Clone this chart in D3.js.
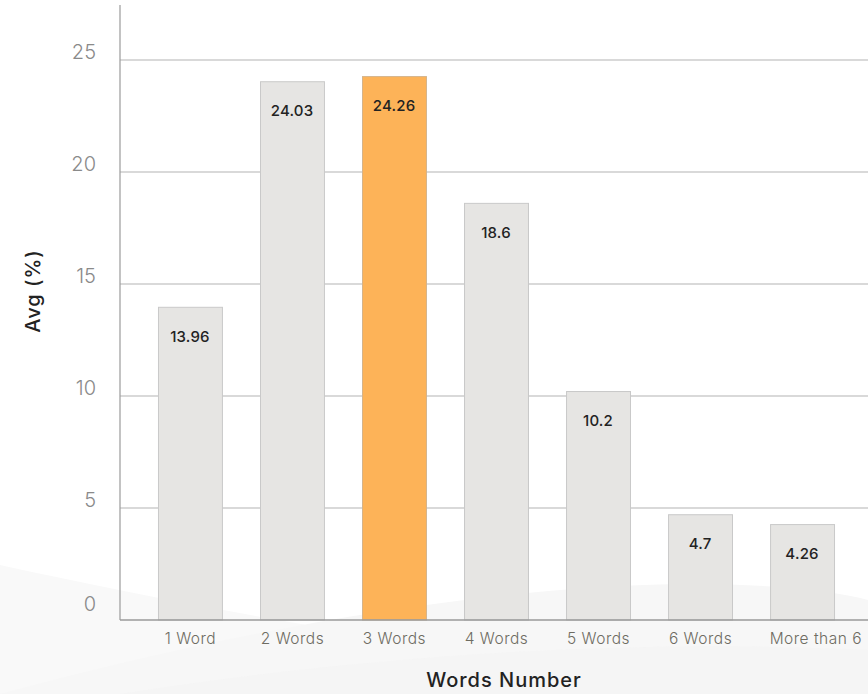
<!DOCTYPE html>
<html>
<head>
<meta charset="utf-8">
<script src="https://cdn.jsdelivr.net/npm/d3@7"></script>
<style>
  html, body { margin: 0; padding: 0; background: #ffffff; }
  svg { display: block; font-family: Inter, "Open Sans", sans-serif; }
</style>
</head>
<body>
<svg id="chart" width="868" height="694"></svg>
<script>
// Average share by number of words
const categories = ["1 Word", "2 Words", "3 Words", "4 Words", "5 Words", "6 Words", "More than 6"];
const avgValues = [13.96, 24.03, 24.26, 18.6, 10.2, 4.7, 4.26];
const yTicks = [0, 5, 10, 15, 20, 25];
const highlighted = "3 Words";

const svg = d3.select("#chart");
const W = 868, H = 694;
const plotLeft = 120, plotBottom = 620, plotTop = 60;

// soft background swooshes at the bottom
const bg = svg.append("g");
bg.append("path")
  .attr("d", `M0,565 C250,620 600,680 868,694 L0,694 Z`)
  .attr("fill", "#f9f9f9");
bg.append("path")
  .attr("d", `M0,694 C200,640 450,588 680,584 C770,583 840,592 868,600 L868,694 Z`)
  .attr("fill", "#f7f7f7");
bg.append("path")
  .attr("d", `M120,694 C400,650 650,640 868,650 L868,694 Z`)
  .attr("fill", "#f4f4f4")
  .attr("opacity", 0.6);

const y = d3.scaleLinear().domain([0, 25]).range([plotBottom, plotTop]);
const x = d3.scaleBand().domain(categories).range([139, 853]).paddingInner(0.373).paddingOuter(0.186);

// horizontal grid lines
svg.append("g")
  .selectAll("line")
  .data(yTicks.filter(t => t > 0))
  .join("line")
  .attr("x1", plotLeft).attr("x2", W)
  .attr("y1", d => y(d)).attr("y2", d => y(d))
  .attr("stroke", "#cccccc")
  .attr("stroke-width", 1.5);

// bars
svg.append("g")
  .selectAll("rect")
  .data(categories)
  .join("rect")
  .attr("x", d => x(d) + 0.5)
  .attr("width", x.bandwidth())
  .attr("y", (d, i) => y(avgValues[i]))
  .attr("height", (d, i) => plotBottom - y(avgValues[i]))
  .attr("fill", d => d === highlighted ? "#fdb358" : "#e6e5e3")
  .attr("stroke", d => d === highlighted ? "#d4b48c" : "#c9c9c9")
  .attr("stroke-width", 1);

// value labels inside the bars
svg.append("g")
  .selectAll("text")
  .data(categories)
  .join("text")
  .attr("x", d => x(d) + x.bandwidth() / 2)
  .attr("y", (d, i) => y(avgValues[i]) + 29)
  .attr("dy", "0.35em")
  .attr("text-anchor", "middle")
  .attr("font-size", 15)
  .attr("font-weight", 500)
  .attr("letter-spacing", "0.2px")
  .attr("fill", "#222222")
  .text((d, i) => avgValues[i]);

// axes
const yAxis = d3.axisLeft(y).tickValues(yTicks).tickSize(0).tickPadding(24);
const gy = svg.append("g").attr("transform", `translate(${plotLeft},0)`).call(yAxis);
gy.select(".domain").remove();
gy.selectAll("text")
  .attr("font-size", 20)
  .attr("font-family", "Inter, sans-serif")
  .attr("font-weight", 300)
  .attr("fill", "#8a8a8a")
  .attr("dy", d => d === 0 ? "-0.5em" : "-0.1em");

svg.append("line")
  .attr("x1", plotLeft).attr("x2", plotLeft)
  .attr("y1", 5).attr("y2", plotBottom)
  .attr("stroke", "#9a9a9a").attr("stroke-width", 1.2);

const xAxis = d3.axisBottom(x).tickSize(0).tickPadding(13);
const gx = svg.append("g").attr("transform", `translate(0.5,${plotBottom})`).call(xAxis);
gx.select(".domain").remove();
gx.selectAll("text")
  .attr("font-size", 15.5)
  .attr("font-family", "Inter, sans-serif")
  .attr("font-weight", 300)
  .attr("letter-spacing", "0.5px")
  .attr("fill", "#6e6c62");
// the last category label is pinned against the right edge
const lastCat = categories[categories.length - 1];
gx.selectAll(".tick")
  .filter(d => d === lastCat)
  .select("text")
  .attr("text-anchor", "end")
  .attr("x", W - 6 - (x(lastCat) + x.bandwidth() / 2 + 0.5));

svg.append("line")
  .attr("x1", plotLeft).attr("x2", W)
  .attr("y1", plotBottom).attr("y2", plotBottom)
  .attr("stroke", "#9a9a9a").attr("stroke-width", 1.5);

// axis titles
svg.append("text")
  .attr("x", 504).attr("y", 680)
  .attr("dy", "0.35em")
  .attr("text-anchor", "middle")
  .attr("font-size", 20)
  .attr("font-weight", 500)
  .attr("letter-spacing", "1px")
  .attr("fill", "#222222")
  .text("Words Number");

svg.append("text")
  .attr("transform", "translate(33,291) rotate(-90)")
  .attr("dy", "0.35em")
  .attr("text-anchor", "middle")
  .attr("font-size", 20)
  .attr("font-weight", 500)
  .attr("letter-spacing", "1px")
  .attr("fill", "#222222")
  .text("Avg (%)");
</script>
</body>
</html>
